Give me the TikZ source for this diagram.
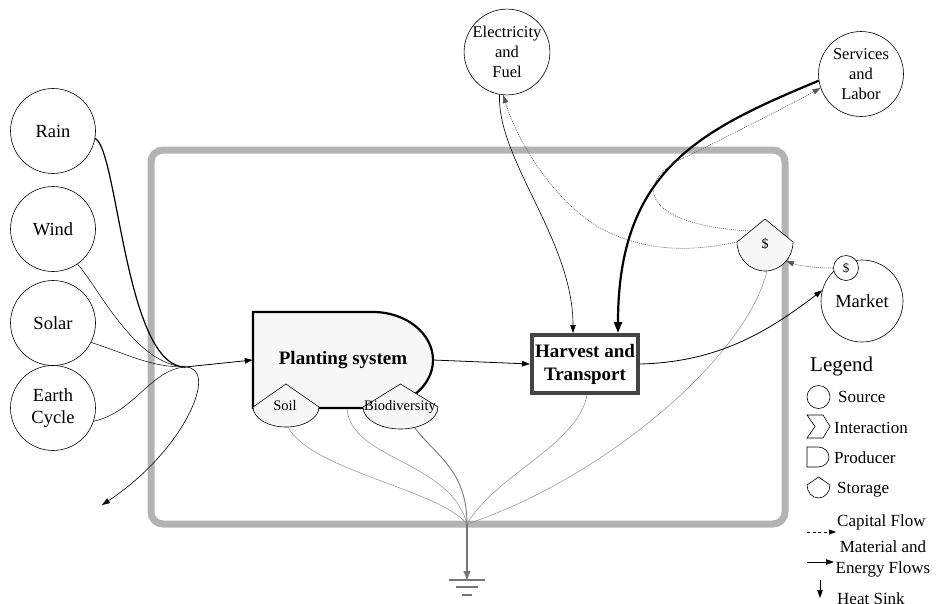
\documentclass[tikz,border=0pt]{standalone}
\usepackage{fontspec}
\setmainfont{Liberation Serif}
\usetikzlibrary{arrows.meta}
\definecolor{bordergray}{HTML}{B3B3B3}
\definecolor{fillgray}{HTML}{F7F7F7}
\definecolor{boxgray}{HTML}{444444}
\definecolor{sinkgray}{HTML}{8C8C8C}
\definecolor{sinkdark}{HTML}{777777}
\definecolor{capgray}{HTML}{555555}
% tank shape: [style]{cx}{cy of corners}{half width}{apex height}{depth}
\newcommand{\tankshape}[6][]{%
  \draw[#1] ({#2-#4},#3) -- (#2,{#3-#5}) -- ({#2+#4},#3)
    .. controls ({#2+#4},{#3+0.552*#6}) and ({#2+0.552*#4},{#3+#6}) .. (#2,{#3+#6})
    .. controls ({#2-0.552*#4},{#3+#6}) and ({#2-#4},{#3+0.552*#6}) .. cycle;}
\begin{document}
\begin{tikzpicture}[x=1pt,y=-1pt,
  src/.style={circle,draw,line width=0.6pt,minimum size=85pt,inner sep=0pt,align=center,font=\fontsize{18.5}{21.5}\selectfont},
  srcs/.style={src,font=\fontsize{16.5}{20}\selectfont},
  flow/.style={line width=0.6pt,-{Triangle[length=8pt,width=5.5pt]}},
  bigflow/.style={line width=2.2pt,-{Triangle[length=11pt,width=8pt]}},
  capflow/.style={line width=0.6pt,color=capgray,dash pattern=on 1pt off 1pt,-{Triangle[length=8pt,width=5.5pt]}},
  sinkline/.style={line width=0.5pt,color=sinkgray},
  tankfill/.style={draw,line width=0.6pt,fill=fillgray},
  lbl/.style={font=\fontsize{17}{20}\selectfont,anchor=west,inner sep=0pt},
  legshape/.style={draw,line width=0.6pt,fill=white},
]
\useasboundingbox (0,0) rectangle (936,603);

% system boundary
\draw[line width=7pt,color=bordergray,rounded corners=12pt] (151,150) rectangle (785,524);

% named points
\coordinate (J) at (185,367);
\coordinate (loss) at (102,505);
\coordinate (sink) at (467,524);
\coordinate (gnd) at (467,580);
\coordinate (soilB) at (288,427);
\coordinate (plantB) at (347,408);
\coordinate (bioB) at (415,428);
\coordinate (stoB) at (767,271);
\coordinate (stoL) at (737,242);
\coordinate (stoUL) at (750,231);
\coordinate (stoR) at (786,261);

% heat sink lines
\draw[sinkline] (soilB) .. controls (310,470) and (440,490) .. (sink);
\draw[sinkline] (plantB) .. controls (350,460) and (450,460) .. (sink);
\draw[sinkline,color=sinkdark,line width=0.9pt] (bioB) .. controls (435,455) and (467,470) .. (sink);
\coordinate (harvB) at (587,395);
\draw[sinkline] (harvB) .. controls (578,445) and (495,475) .. (sink);
\draw[sinkline] (stoB) .. controls (745,360) and (600,480) .. (sink);
\draw[line width=1.2pt,color=sinkdark,-{Triangle[length=9pt,width=7pt]}] (sink) -- (gnd);
\draw[line width=1.2pt,color=sinkdark] (gnd) ++(-18,0) -- ++(36,0);
\draw[line width=1.2pt,color=sinkdark] (gnd) ++(-11,7) -- ++(22,0);
\draw[line width=1.2pt,color=sinkdark] (gnd) ++(-5,15) -- ++(10,0);

% sources
\node[src] (rain) at (53,131) {Rain};
\node[src] (wind) at (53,229) {Wind};
\node[src] (solar) at (53,323) {Solar};
\node[src] (earth) at (53,408) {Earth\\Cycle};
\node[srcs,minimum size=82pt] (elec) at (507,52) {Electricity\\and\\Fuel};
\node[srcs] (serv) at (861,74) {Services\\and\\Labor};
\node[src,minimum size=82pt] (market) at (862,301) {Market};
\node[circle,draw,fill=white,line width=0.6pt,minimum size=25pt,inner sep=0pt,font=\fontsize{13}{15}\selectfont] (mdollar) at (846,268) {\$};

% planting system (producer)
\path[draw,line width=2.2pt,fill=fillgray] (253,312) -- (373,312)
  .. controls (406,312) and (433,333.5) .. (433,360)
  .. controls (433,386.5) and (406,408) .. (373,408) -- (253,408) -- cycle;
\node[font=\bfseries\fontsize{19}{23}\selectfont,minimum width=180pt,minimum height=96pt,inner sep=0pt] (plant) at (343,360) {Planting system};

% storages
\tankshape[tankfill]{286}{407}{33}{23}{20}
\node[font=\fontsize{14.5}{17}\selectfont,inner sep=0pt] (soil) at (285,406) {Soil};
\tankshape[tankfill]{400.5}{407}{37.5}{23}{22}
\node[font=\fontsize{14.5}{17}\selectfont,inner sep=0pt] (bio) at (400,407) {Biodiversity};
\tankshape[tankfill]{765}{242}{28}{23}{29}
\node[font=\fontsize{14}{17}\selectfont,inner sep=0pt] (storage) at (765,244) {\$};

% harvest
\node[draw=boxgray,line width=4pt,fill=white,minimum width=106pt,minimum height=58pt,inner sep=0pt,align=center,font=\bfseries\fontsize{19}{23}\selectfont] (harvest) at (585,364) {Harvest and\\Transport};

% inputs to planting system
\draw[line width=1.2pt] (rain.-10) .. controls (118,150) and (125,366) .. (J);
\draw[line width=0.5pt] (wind.-55) .. controls (100,290) and (135,364) .. (J);
\draw[line width=0.5pt] (solar.-27) .. controls (130,355) and (150,367) .. (J);
\draw[line width=0.5pt] (earth.-18) .. controls (135,412) and (150,370) .. (J);
\draw[flow] (J) .. controls (220,367) and (185,450) .. (loss);
\draw[flow,line width=0.8pt] (J) -- (plant.west);

% main material flows
\draw[flow,line width=0.8pt] (plant.east) -- (harvest.west);
\draw[flow,line width=0.8pt] (harvest.east) .. controls (720,362) and (770,330) .. (market.165);
\draw[flow] (elec.-100) .. controls (497,160) and (573,240) .. ([xshift=-12pt]harvest.north);
\draw[bigflow] (serv.189) .. controls (700,130) and (618,170) .. ([xshift=33pt]harvest.north);

% capital flows
\draw[capflow] (stoL) .. controls (690,252) and (645,252) .. (600,228)
  .. controls (560,205) and (520,150) .. (elec.-95);
\draw[capflow] (stoUL) .. controls (640,225) and (630,180) .. (690,155)
  .. controls (730,135) and (790,105) .. (serv.199);
\draw[capflow] (mdollar.west) .. controls (815,268) and (800,266) .. (stoR);

% legend
\node[anchor=west,inner sep=0pt,font=\fontsize{21}{24}\selectfont] (legend) at (810,366) {Legend};
\node[circle,legshape,minimum size=23pt,inner sep=0pt] (lsrc) at (818.5,397) {};
\node[lbl] (tsrc) at (838,397) {Source};
\draw[legshape] (807,415) -- (823,415) -- (830,426.5) -- (823,438) -- (807,438) -- (815,426.5) -- cycle;
\node[lbl] (tint) at (834,428) {Interaction};
\draw[legshape] (807,447) -- (818,447) .. controls (824,447) and (829,451.5) .. (829,457)
  .. controls (829,462.5) and (824,467) .. (818,467) -- (807,467) -- cycle;
\node[lbl] (tprod) at (834,458) {Producer};
\tankshape[legshape]{818.5}{485}{11.5}{8}{13}
\node[lbl] (tsto) at (837,490) {Storage};
\coordinate (c1) at (807,532);
\coordinate (c2) at (836,532);
\draw[line width=0.6pt,dash pattern=on 3pt off 2.5pt,-{Triangle[length=7pt,width=5pt]}] (c1) -- (c2);
\node[lbl] (tcap) at (837,522) {Capital Flow};
\coordinate (m1) at (807,562);
\coordinate (m2) at (834,562);
\draw[flow] (m1) -- (m2);
\node[font=\fontsize{17}{21}\selectfont,align=center,inner sep=0pt] (tmat) at (883,559) {Material and\\Energy Flows};
\coordinate (h1) at (820,580);
\coordinate (h2) at (820,598);
\draw[flow] (h1) -- (h2);
\node[font=\fontsize{17}{20}\selectfont,anchor=base west,inner sep=0pt] (theat) at (837,604) {Heat Sink};
\end{tikzpicture}
\end{document}
